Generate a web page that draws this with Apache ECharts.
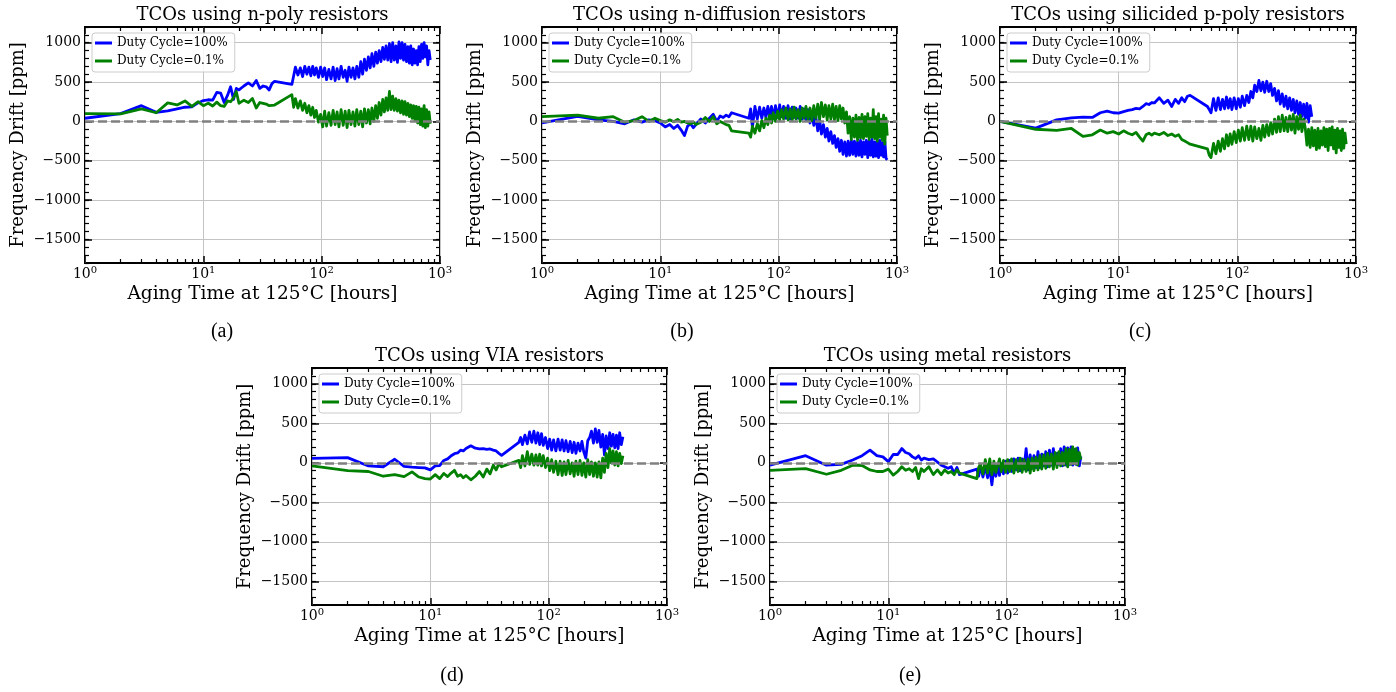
<!DOCTYPE html>
<html><head><meta charset="utf-8">
<script src="https://cdn.jsdelivr.net/npm/echarts@6/dist/echarts.min.js"></script>
<style>html,body{margin:0;padding:0;background:#fff}#c{width:1396px;height:692px}</style>
</head><body><div id="c"></div>
<script>
// ---------- data ----------
const T = [1,2,3,4,5,6,7,8,9,10, 11,12,13,14,15,16,17,18,19,20, 22,24,26,28,30,32,34,36,38,40,
  56,58,60,63,66,69,72,75,78,81, 84,87,90,94,98,102,106,110,115,120, 125,130,135,140,146,152,158,164,170,177,
  184,191,198,206,214,222,230,239,248,257, 266,276,286,296,306,317,328,339,350,362,
  374,386,398,411,424,437,450,464,478,492, 506,521,536,551,566,582,598,614,630,647,
  664,681,698,716,734,752,770,789,808,827];

const A_100 = [40,100,200,115,135,160,180,185,235,265, 275,270,370,360,240,330,440,280,420,400,
  450,490,450,520,420,450,440,400,480,510,
  470,580,690,590,680,570,700,600,690,580, 700,590,680,560,690,570,680,530,660,540,
  690,520,670,540,700,560,650,510,690,560, 680,540,700,560,760,600,790,650,820,680,
  860,700,880,740,900,760,940,790,960,780, 990,760,1000,780,960,750,1010,800,1000,780,
  980,760,950,740,960,720,920,740,900,720, 950,760,980,800,1000,820,960,720,900,780];
const A_01 = [100,95,160,110,235,210,260,190,250,200, 230,195,245,200,190,260,250,300,380,230,
  270,240,290,170,240,230,220,200,205,208,
  340,180,290,170,260,140,230,110,200,80, 180,50,140,-10,90,-70,130,-60,110,-50,
  140,-40,120,-70,150,-50,130,-80,140,-40, 120,-60,150,-40,130,-70,160,-20,150,-30,
  170,0,200,40,240,80,280,120,300,140, 380,150,320,140,290,130,270,110,260,90,
  250,80,230,60,210,40,200,10,190,-20, 180,-40,160,-60,200,-80,150,-60,120,-30];

const B_100 = [-20,65,20,0,-30,20,-10,20,10,-20, -70,-40,-90,-50,-110,-180,-60,-30,-80,-40,
  30,-20,40,90,0,70,50,80,60,110,
  40,160,-80,190,30,180,40,170,50,190, 60,190,40,200,50,210,60,190,40,200,
  30,180,50,170,40,190,30,160,20,150, -20,120,-50,60,-120,20,-160,-40,-200,-90,
  -250,-130,-280,-180,-330,-220,-380,-240,-420,-260, -440,-250,-430,-240,-420,-250,-440,-260,-430,-240,
  -450,-260,-420,-240,-460,-250,-430,-230,-450,-260, -440,-250,-460,-240,-430,-270,-450,-250,-470,-490];
const B_01 = [60,80,40,60,-10,10,60,0,40,10, -10,20,-5,25,-10,0,-20,-30,-10,-40,
  -10,50,0,60,-30,0,-20,-40,-50,-120,
  -150,-200,-60,-150,-30,-120,10,-80,40,-40, 80,-20,110,0,130,20,150,30,170,20,
  160,10,180,30,150,0,170,40,190,20, 170,10,200,40,220,30,240,60,210,20,
  200,30,220,20,190,10,200,30,170,-20, 120,-150,60,-230,40,-200,80,-240,50,-210,
  90,-220,60,-190,100,-230,40,-200,150,-220, 60,-250,100,-200,30,-240,80,-290,40,-180];

const C_100 = [0,-85,20,45,55,50,110,130,110,105, 125,140,150,165,160,190,225,215,240,235,
  300,230,270,190,280,230,300,250,320,330,
  190,150,110,290,140,300,150,280,160,310, 170,290,150,300,160,290,180,320,200,330,
  240,380,300,460,380,520,390,500,370,510, 380,480,330,420,260,390,220,350,190,320,
  160,300,140,280,110,260,90,240,60,220, 40,230,-10,200,60];
const C_01 = [0,-100,-115,-90,-190,-170,-110,-150,-130,-160, -120,-150,-170,-140,-200,-250,-170,-150,-175,-150,
  -170,-140,-180,-160,-190,-170,-230,-250,-270,-290,
  -350,-430,-460,-280,-410,-250,-380,-220,-350,-170, -310,-160,-290,-130,-270,-110,-250,-80,-240,-60,
  -230,-60,-250,-70,-220,-90,-240,-50,-200,-40, -180,-20,-160,30,-140,60,-130,80,-120,50,
  -130,70,-110,90,-150,60,-100,80,-130,30, -90,-300,-100,-330,-80,-310,-110,-360,-90,-340,
  -120,-300,-80,-320,-100,-370,-90,-300,-70,-350, -110,-400,-90,-330,-120,-370,-100,-340,-150,-290];

const D_100 = [55,65,-40,-50,45,-45,-55,-60,-65,-90, -40,-35,30,50,90,115,125,160,150,180,
  215,185,175,180,170,175,160,150,120,95,
  260,320,230,350,240,390,260,400,250,380, 230,370,220,320,180,300,160,290,150,300,
  160,290,150,280,140,270,130,260,120,250, 150,270,140,60,280,320,400,250,430,260,
  410,200,360,100,340,180,380,210,360,190, 350,180,380,230,330];
const D_01 = [-40,-100,-110,-170,-150,-175,-115,-180,-200,-205, -150,-200,-135,-175,-130,-95,-170,-150,-190,-160,
  -215,-170,-110,-180,-80,-140,-30,-90,-10,-50,
  30,-60,90,-40,140,-20,110,-30,100,-30, 110,-40,90,-60,60,-100,40,-120,20,-150,
  20,-160,10,-150,30,-140,0,-170,20,-150, 30,-160,0,-180,40,-150,10,-170,0,-180,
  10,-190,60,-120,120,-60,180,0,150,-30, 140,-40,120,-10,90];

const E_100 = [-30,90,-30,-20,35,90,160,90,75,15, 105,105,180,130,115,75,55,90,35,60,
  40,50,10,-30,-50,-70,-50,-130,-60,-150,
  -80,-170,-30,-180,-40,-190,-60,-280,-50,-170, -30,-160,-10,-140,20,-130,30,-110,50,-90,
  60,-100,50,-80,180,-90,100,-70,90,-60, 140,-60,110,-40,140,-50,160,-30,180,-10,
  120,-20,180,-40,200,-30,190,-20,200,-30, 170,-20,190,-40,80];
const E_01 = [-95,-75,-145,-95,-30,-35,-90,-110,-110,-80, -155,-110,-50,-95,-75,-110,-60,-200,-75,-110,
  -50,-150,-90,-150,-90,-130,-110,-150,-90,-130,
  -200,-60,-20,-140,40,-130,50,-150,20,-120, -130,50,-110,30,-120,40,-110,50,-130,40,
  -110,60,-120,40,-110,50,-130,60,-100,70, -90,90,-80,100,-70,120,-50,110,-80,130,
  -60,140,-40,130,-30,180,-50,170,-20,200, -10,180,-30,130,40];

const PANEL_TITLES = ['TCOs using n-poly resistors','TCOs using n-diffusion resistors','TCOs using silicided p-poly resistors','TCOs using VIA resistors','TCOs using metal resistors'];
const CAPTIONS = ['(a)','(b)','(c)','(d)','(e)'];
const SERIES_NAMES = ['Duty Cycle=100%','Duty Cycle=0.1%'];
const PANEL_DATA = [[A_100,A_01],[B_100,B_01],[C_100,C_01],[D_100,D_01],[E_100,E_01]];
const X_MAJOR = [1,10,100,1000];
const X_MINOR = [2,3,4,5,6,7,8,9,20,30,40,50,60,70,80,90,200,300,400,500,600,700,800,900];
const Y_MAJOR = [-1500,-1000,-500,0,500,1000];
const X_NAME = 'Aging Time at 125°C [hours]';
const Y_NAME = 'Frequency Drift [ppm]';

// ---------- layout ----------
const GRIDS = [
  {left:85, top:27, width:355, height:236},
  {left:542, top:27, width:355, height:236},
  {left:1000, top:27, width:356, height:236},
  {left:312, top:368, width:355, height:237},
  {left:770, top:368, width:355, height:237}
];
const CAP_POS = [[222,332],[682,332],[1140,332],[452,676],[910,676]];
const COLORS = ['#0000ff','#008000'];
const FONT = 'DejaVu Serif';
const majorTick = {color:'#000', width:1.5};
const minorTick = {color:'#000', width:1.2};

const grid = [], xAxis = [], yAxis = [], series = [], legend = [], graphic = [];
GRIDS.forEach((g, i) => {
  grid.push({left:g.left, top:g.top, width:g.width, height:g.height, show:true,
    borderColor:'#000', borderWidth:2, backgroundColor:'transparent', containLabel:false, outerBoundsMode:'none'});
  const xb = {type:'log', logBase:10, gridIndex:i, min:1, max:1000, silent:true};
  xAxis.push(Object.assign({}, xb, {position:'bottom',
    axisLine:{show:false, onZero:false},
    axisTick:{show:true, inside:true, length:7, lineStyle:majorTick, customValues:X_MAJOR},
    axisLabel:{show:true, customValues:X_MAJOR, margin:2, lineHeight:16,
      formatter: v => '{b|10}{s|' + Math.round(Math.log10(v)) + '}',
      rich:{b:{fontFamily:FONT, fontSize:14, color:'#000', verticalAlign:'bottom', lineHeight:16},
            s:{fontFamily:FONT, fontSize:10, color:'#000', verticalAlign:'top', lineHeight:10}}},
    splitLine:{show:true, lineStyle:{color:'#c4c4c4', width:1}},
    name:X_NAME, nameLocation:'middle', nameGap:22, nameMoveOverlap:false,
    nameTextStyle:{fontFamily:FONT, fontSize:18.5, color:'#000'}}));
  xAxis.push(Object.assign({}, xb, {position:'bottom', axisLine:{show:false,onZero:false},
    axisTick:{show:true, inside:true, length:4, lineStyle:minorTick, customValues:X_MINOR},
    axisLabel:{show:false}, splitLine:{show:false}}));
  xAxis.push(Object.assign({}, xb, {position:'top', axisLine:{show:false,onZero:false},
    axisTick:{show:true, inside:true, length:7, lineStyle:majorTick, customValues:X_MAJOR},
    axisLabel:{show:false}, splitLine:{show:false}}));
  xAxis.push(Object.assign({}, xb, {position:'top', axisLine:{show:false,onZero:false},
    axisTick:{show:true, inside:true, length:4, lineStyle:minorTick, customValues:X_MINOR},
    axisLabel:{show:false}, splitLine:{show:false}}));

  const yb = {type:'value', gridIndex:i, min:-1800, max:1200, interval:100, silent:true};
  yAxis.push(Object.assign({}, yb, {position:'left',
    axisLine:{show:false, onZero:false},
    axisTick:{show:true, inside:true, length:7, lineStyle:majorTick, customValues:Y_MAJOR},
    axisLabel:{show:true, customValues:Y_MAJOR, margin:4, fontFamily:FONT, fontSize:14, color:'#000',
      formatter: v => v < 0 ? '\u2212' + Math.abs(v) : String(v)},
    splitLine:{show:true, lineStyle:{color:'#c4c4c4', width:1}},
    name:Y_NAME, nameLocation:'middle', nameGap:58, nameMoveOverlap:false,
    nameTextStyle:{fontFamily:FONT, fontSize:18, color:'#000'}}));
  yAxis.push(Object.assign({}, yb, {position:'left', axisLine:{show:false,onZero:false},
    axisTick:{show:true, inside:true, length:4, lineStyle:minorTick},
    axisLabel:{show:false}, splitLine:{show:false}}));
  yAxis.push(Object.assign({}, yb, {position:'right', axisLine:{show:false,onZero:false},
    axisTick:{show:true, inside:true, length:7, lineStyle:majorTick, customValues:Y_MAJOR},
    axisLabel:{show:false}, splitLine:{show:false}}));
  yAxis.push(Object.assign({}, yb, {position:'right', axisLine:{show:false,onZero:false},
    axisTick:{show:true, inside:true, length:4, lineStyle:minorTick},
    axisLabel:{show:false}, splitLine:{show:false}}));

  // zero reference line
  series.push({type:'line', name:'zero', xAxisIndex:4*i, yAxisIndex:4*i, data:[], z:1, silent:true,
    markLine:{silent:true, symbol:'none', label:{show:false}, animation:false,
      lineStyle:{color:'#808080', width:2.6, type:[9,4]}, data:[{yAxis:0}]}});
  PANEL_DATA[i].forEach((vals, k) => {
    series.push({type:'line', name:SERIES_NAMES[k], xAxisIndex:4*i, yAxisIndex:4*i,
      data: vals.map((v, j) => [T[j], v]),
      symbol:'none', showSymbol:false, z:2, silent:true,
      lineStyle:{color:COLORS[k], width:2.8, join:'round'}, itemStyle:{color:COLORS[k]},
      emphasis:{disabled:true}, animation:false});
  });

  legend.push({left:g.left + 7, top:g.top + 6, orient:'vertical', data:SERIES_NAMES,
    icon:'rect', itemWidth:17, itemHeight:3, itemGap:4, selectedMode:false,
    padding:[3,7,4,3], backgroundColor:'rgba(255,255,255,0.85)', borderColor:'#cccccc', borderWidth:1, borderRadius:3,
    textStyle:{fontFamily:FONT, fontSize:12, color:'#000', lineHeight:14}});

  graphic.push({type:'text', x:g.left + g.width/2, y:g.top - 11.5, silent:true,
    style:{text:PANEL_TITLES[i], fontFamily:FONT, fontSize:18, fill:'#000', align:'center', verticalAlign:'middle'}});
  graphic.push({type:'text', x:CAP_POS[i][0], y:CAP_POS[i][1], silent:true,
    style:{text:CAPTIONS[i], fontFamily:'Liberation Serif', fontSize:20, fill:'#000', align:'center', verticalAlign:'middle'}});
});

const chart = echarts.init(document.getElementById('c'), null, {renderer:'canvas'});
chart.setOption({animation:false, backgroundColor:'#fff', grid, xAxis, yAxis, series, legend, graphic, tooltip:{show:false}});
</script></body></html>
